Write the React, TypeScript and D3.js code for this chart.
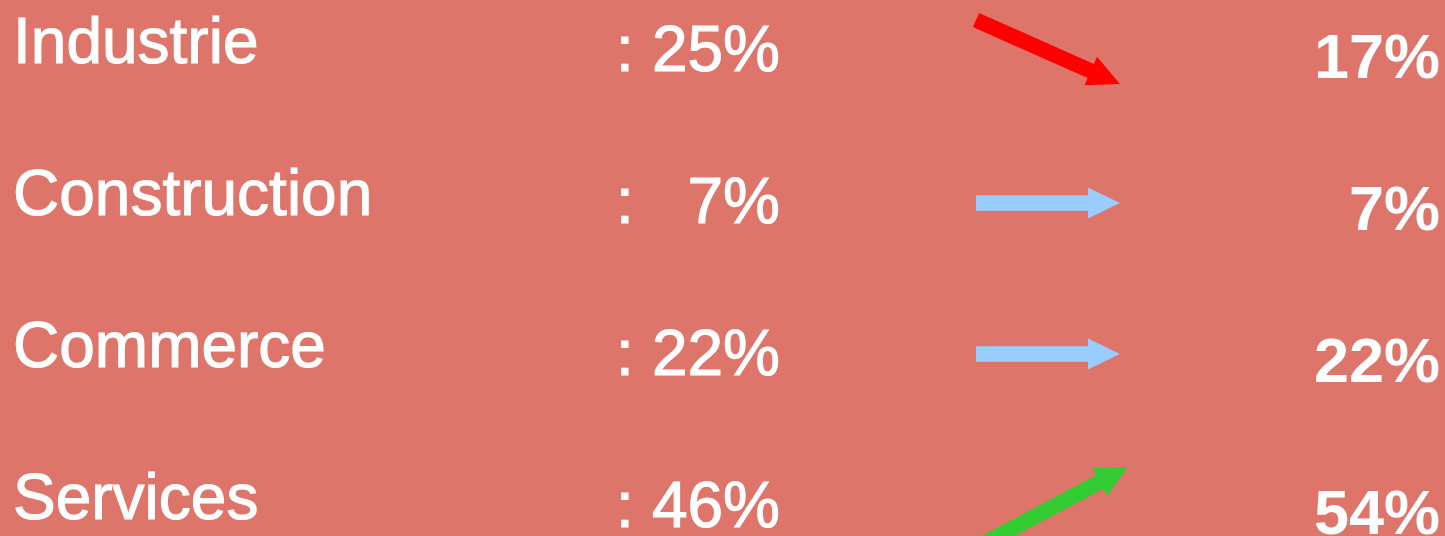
import React from "react";
import * as d3 from "d3";

const categories = ["Industrie", "Construction", "Commerce", "Services"];
const before = [25, 7, 22, 46];
const after = [17, 7, 22, 54];

const W = 1445;
const H = 536;
const BG = "#DD756B";

function arrowPath(x0: number, y0: number, x1: number, y1: number, shaft: number, headW: number, headL: number) {
  const dx = x1 - x0, dy = y1 - y0;
  const len = Math.hypot(dx, dy);
  const ux = dx / len, uy = dy / len;
  const nx = -uy, ny = ux;
  const bx = x1 - ux * headL, by = y1 - uy * headL;
  const p = d3.path();
  p.moveTo(x0 + nx * shaft / 2, y0 + ny * shaft / 2);
  p.lineTo(bx + nx * shaft / 2, by + ny * shaft / 2);
  p.lineTo(bx + nx * headW / 2, by + ny * headW / 2);
  p.lineTo(x1, y1);
  p.lineTo(bx - nx * headW / 2, by - ny * headW / 2);
  p.lineTo(bx - nx * shaft / 2, by - ny * shaft / 2);
  p.lineTo(x0 - nx * shaft / 2, y0 - ny * shaft / 2);
  p.closePath();
  return p.toString();
}

export default function App() {
  const textRow = d3.scalePoint<string>().domain(categories).range([52, 52 + 152 * 3]);
  const arrowRow = d3.scalePoint<string>().domain(categories).range([52, 52 + 151 * 3]);
  const slope = d3.scaleLinear().domain([-8, 0, 8]).range([64, 0, -76]);
  const color = (c: number) => (c < 0 ? "#FF0000" : c > 0 ? "#33CC33" : "#99CCFF");
  const font = "'Liberation Sans', Arial, sans-serif";
  const thick = { stroke: "#fff", strokeWidth: 1.1, paintOrder: "stroke" } as any;

  return (
    <svg width={W} height={H} style={{ position: "fixed", left: 0, top: 0, display: "block" }}>
      <rect x={0} y={0} width={W} height={H} fill={BG} />
      {categories.map((c, i) => {
        const y = textRow(c)!;
        const ay = arrowRow(c)!;
        const change = after[i] - before[i];
        const dy = slope(change);
        const xt = change > 0 ? 985 : 976;
        const xh = change > 0 ? 1128 : 1120;
        return (
          <g key={c}>
            <text x={13} y={y + 11} fill="#fff" fontFamily={font} fontSize={64} {...thick}>{c}</text>
            <text x={616} y={y + 19} fill="#fff" fontFamily={font} fontSize={64} {...thick}>:</text>
            <text x={780} y={y + 19} fill="#fff" fontFamily={font} fontSize={64} textAnchor="end" {...thick}>{before[i]}%</text>
            <path d={arrowPath(xt, ay - dy / 2, xh, ay + dy / 2, 15.5, 31, 32)} fill={color(change)} />
            <text x={1440} y={y + 26} fill="#fff" fontFamily={font} fontSize={63} fontWeight="bold" textAnchor="end">{after[i]}%</text>
          </g>
        );
      })}
    </svg>
  );
}
